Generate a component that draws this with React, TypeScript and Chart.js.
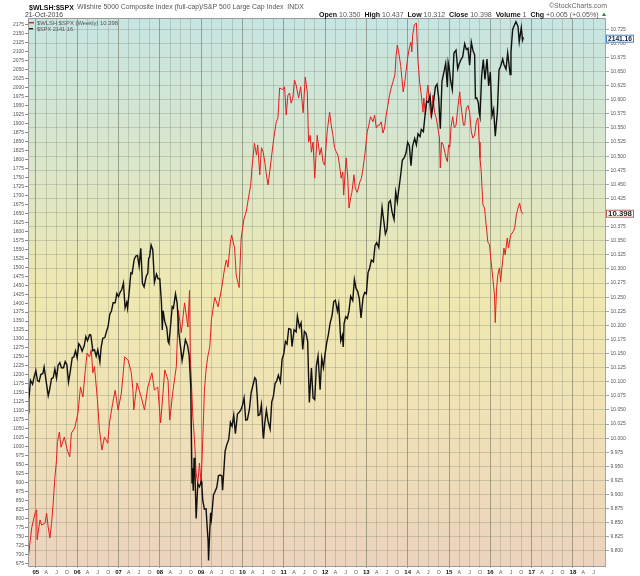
import React, { useEffect, useRef } from 'react';
import { Chart, registerables } from 'chart.js';
Chart.register(...registerables);

// ---------- DATA ----------
// $WLSH:$SPX ratio (right axis), time in decimal years
const wlshTime = [
  2004.81, 2004.90, 2004.98, 2005.02, 2005.03, 2005.10, 2005.14, 2005.22, 2005.26, 2005.30,
  2005.34, 2005.38, 2005.42, 2005.46, 2005.50, 2005.52, 2005.57, 2005.61, 2005.69, 2005.76,
  2005.82, 2005.86, 2005.94, 2006.02, 2006.08, 2006.14, 2006.19, 2006.24, 2006.30, 2006.34,
  2006.38, 2006.42, 2006.49, 2006.54, 2006.60, 2006.66, 2006.74, 2006.78, 2006.86, 2006.92,
  2006.99, 2007.07, 2007.15, 2007.23, 2007.31, 2007.35, 2007.37, 2007.45, 2007.55, 2007.63,
  2007.71, 2007.81, 2007.87, 2007.95, 2008.02, 2008.12, 2008.20, 2008.24, 2008.32, 2008.40,
  2008.45, 2008.52, 2008.60, 2008.68, 2008.72, 2008.74, 2008.80, 2008.84, 2008.88, 2008.92,
  2008.96, 2009.00, 2009.04, 2009.08, 2009.12, 2009.16, 2009.21, 2009.25, 2009.33, 2009.41,
  2009.49, 2009.57, 2009.61, 2009.65, 2009.71, 2009.74, 2009.81, 2009.85, 2009.92, 2009.97,
  2010.04, 2010.09, 2010.13, 2010.20, 2010.23, 2010.29, 2010.34, 2010.37, 2010.42, 2010.46,
  2010.50, 2010.54, 2010.58, 2010.62, 2010.66, 2010.70, 2010.76, 2010.82, 2010.86, 2010.90,
  2010.98, 2011.02, 2011.06, 2011.10, 2011.14, 2011.18, 2011.22, 2011.26, 2011.30, 2011.36,
  2011.41, 2011.47, 2011.52, 2011.57, 2011.60, 2011.64, 2011.67, 2011.71, 2011.75, 2011.81,
  2011.87, 2011.91, 2011.95, 2011.99, 2012.05, 2012.11, 2012.15, 2012.19, 2012.23, 2012.27,
  2012.31, 2012.35, 2012.39, 2012.43, 2012.45, 2012.51, 2012.55, 2012.58, 2012.62, 2012.65,
  2012.70, 2012.73, 2012.78, 2012.84, 2012.88, 2012.92, 2012.97, 2013.02, 2013.06, 2013.10,
  2013.16, 2013.20, 2013.24, 2013.28, 2013.32, 2013.36, 2013.40, 2013.44, 2013.48, 2013.52,
  2013.56, 2013.60, 2013.64, 2013.69, 2013.72, 2013.75, 2013.78, 2013.83, 2013.86, 2013.89,
  2013.92, 2013.96, 2014.00, 2014.04, 2014.08, 2014.10, 2014.12, 2014.16, 2014.21, 2014.23,
  2014.25, 2014.29, 2014.33, 2014.37, 2014.39, 2014.43, 2014.46, 2014.49, 2014.53, 2014.57,
  2014.61, 2014.65, 2014.69, 2014.73, 2014.77, 2014.79, 2014.82, 2014.86, 2014.90, 2014.93,
  2014.96, 2014.99, 2015.02, 2015.05, 2015.09, 2015.13, 2015.17, 2015.22, 2015.26, 2015.28,
  2015.31, 2015.35, 2015.38, 2015.42, 2015.46, 2015.50, 2015.54, 2015.58, 2015.62, 2015.66,
  2015.70, 2015.73, 2015.75, 2015.78, 2015.82, 2015.86, 2015.90, 2015.94, 2015.98, 2016.02,
  2016.06, 2016.10, 2016.12, 2016.15, 2016.18, 2016.22, 2016.25, 2016.28, 2016.33, 2016.36,
  2016.41, 2016.44, 2016.49, 2016.55, 2016.59, 2016.63, 2016.67, 2016.71, 2016.75, 2016.80,
];
const wlshRatio = [
  9.784, 9.841, 9.867, 9.873, 9.820, 9.855, 9.846, 9.849, 9.867, 9.842,
  9.823, 9.849, 9.885, 9.930, 9.960, 9.992, 10.011, 9.984, 10.002, 9.979,
  9.967, 10.009, 10.018, 10.045, 10.091, 10.073, 10.116, 10.151, 10.144, 10.157,
  10.116, 10.127, 10.068, 10.014, 9.979, 10.002, 9.991, 10.027, 10.062, 10.085,
  10.050, 10.080, 10.144, 10.139, 10.116, 10.085, 10.050, 10.098, 10.073, 10.050,
  10.091, 10.116, 10.085, 10.091, 10.027, 10.121, 10.103, 10.032, 10.085, 10.127,
  10.227, 10.187, 10.240, 10.197, 10.262, 10.144, 10.037, 9.997, 9.938, 9.920,
  9.956, 9.920, 9.997, 10.085, 10.121, 10.144, 10.162, 10.210, 10.250, 10.233,
  10.263, 10.302, 10.316, 10.303, 10.348, 10.360, 10.337, 10.289, 10.267, 10.355,
  10.390, 10.401, 10.419, 10.449, 10.479, 10.523, 10.502, 10.520, 10.467, 10.515,
  10.508, 10.490, 10.467, 10.449, 10.472, 10.497, 10.532, 10.561, 10.568, 10.621,
  10.618, 10.623, 10.573, 10.608, 10.612, 10.594, 10.603, 10.635, 10.626, 10.603,
  10.623, 10.577, 10.640, 10.614, 10.525, 10.537, 10.507, 10.525, 10.461, 10.537,
  10.502, 10.515, 10.490, 10.484, 10.543, 10.578, 10.555, 10.537, 10.515, 10.508,
  10.502, 10.484, 10.461, 10.472, 10.431, 10.497, 10.461, 10.408, 10.426, 10.436,
  10.467, 10.443, 10.436, 10.454, 10.461, 10.479, 10.507, 10.543, 10.555, 10.570,
  10.561, 10.573, 10.550, 10.555, 10.555, 10.561, 10.541, 10.550, 10.573, 10.590,
  10.608, 10.621, 10.631, 10.644, 10.679, 10.697, 10.685, 10.661, 10.638, 10.614,
  10.626, 10.650, 10.675, 10.692, 10.702, 10.685, 10.714, 10.733, 10.736, 10.702,
  10.668, 10.631, 10.608, 10.578, 10.603, 10.573, 10.608, 10.626, 10.590, 10.568,
  10.608, 10.578, 10.568, 10.550, 10.532, 10.479, 10.525, 10.520, 10.507, 10.497,
  10.490, 10.520, 10.516, 10.552, 10.570, 10.550, 10.555, 10.590, 10.614, 10.596,
  10.578, 10.555, 10.555, 10.585, 10.590, 10.578, 10.543, 10.532, 10.537, 10.561,
  10.568, 10.525, 10.497, 10.472, 10.414, 10.408, 10.378, 10.348, 10.343, 10.313,
  10.284, 10.254, 10.205, 10.263, 10.289, 10.302, 10.277, 10.302, 10.337, 10.325,
  10.355, 10.337, 10.360, 10.366, 10.373, 10.396, 10.408, 10.417, 10.401, 10.398,
];

// $SPX (left axis)
const spxTime = [
  2004.81, 2004.83, 2004.87, 2004.92, 2004.96, 2005.00, 2005.04, 2005.08, 2005.12, 2005.17,
  2005.20, 2005.25, 2005.30, 2005.33, 2005.38, 2005.42, 2005.46, 2005.50, 2005.54, 2005.58,
  2005.62, 2005.67, 2005.71, 2005.75, 2005.79, 2005.83, 2005.88, 2005.92, 2005.96, 2006.00,
  2006.04, 2006.08, 2006.12, 2006.17, 2006.21, 2006.25, 2006.30, 2006.33, 2006.38, 2006.42,
  2006.46, 2006.50, 2006.55, 2006.58, 2006.62, 2006.67, 2006.71, 2006.75, 2006.79, 2006.83,
  2006.87, 2006.92, 2006.96, 2007.00, 2007.04, 2007.08, 2007.12, 2007.16, 2007.20, 2007.22,
  2007.25, 2007.30, 2007.33, 2007.38, 2007.42, 2007.46, 2007.50, 2007.54, 2007.58, 2007.62,
  2007.67, 2007.71, 2007.73, 2007.75, 2007.79, 2007.83, 2007.87, 2007.92, 2007.96, 2008.00,
  2008.04, 2008.06, 2008.08, 2008.12, 2008.17, 2008.20, 2008.22, 2008.25, 2008.30, 2008.33,
  2008.38, 2008.42, 2008.46, 2008.50, 2008.54, 2008.58, 2008.62, 2008.67, 2008.71, 2008.75,
  2008.78, 2008.79, 2008.81, 2008.83, 2008.85, 2008.88, 2008.92, 2008.96, 2009.00, 2009.02,
  2009.04, 2009.08, 2009.12, 2009.15, 2009.17, 2009.18, 2009.21, 2009.23, 2009.25, 2009.30,
  2009.33, 2009.38, 2009.42, 2009.46, 2009.50, 2009.52, 2009.58, 2009.62, 2009.67, 2009.71,
  2009.75, 2009.79, 2009.83, 2009.88, 2009.92, 2009.96, 2010.00, 2010.04, 2010.08, 2010.12,
  2010.17, 2010.21, 2010.25, 2010.30, 2010.33, 2010.36, 2010.38, 2010.42, 2010.46, 2010.50,
  2010.51, 2010.54, 2010.58, 2010.62, 2010.67, 2010.71, 2010.75, 2010.79, 2010.83, 2010.87,
  2010.92, 2010.96, 2011.00, 2011.04, 2011.08, 2011.12, 2011.17, 2011.20, 2011.25, 2011.30,
  2011.33, 2011.38, 2011.42, 2011.46, 2011.50, 2011.54, 2011.58, 2011.60, 2011.62, 2011.67,
  2011.71, 2011.75, 2011.79, 2011.83, 2011.88, 2011.92, 2011.96, 2012.00, 2012.04, 2012.08,
  2012.12, 2012.17, 2012.21, 2012.25, 2012.30, 2012.33, 2012.38, 2012.42, 2012.44, 2012.46,
  2012.50, 2012.54, 2012.58, 2012.62, 2012.67, 2012.71, 2012.75, 2012.79, 2012.83, 2012.87,
  2012.92, 2012.96, 2013.00, 2013.04, 2013.08, 2013.12, 2013.17, 2013.21, 2013.25, 2013.30,
  2013.33, 2013.38, 2013.42, 2013.46, 2013.50, 2013.54, 2013.58, 2013.62, 2013.67, 2013.71,
  2013.75, 2013.77, 2013.83, 2013.87, 2013.92, 2013.96, 2014.00, 2014.04, 2014.08, 2014.12,
  2014.17, 2014.21, 2014.25, 2014.30, 2014.33, 2014.38, 2014.42, 2014.46, 2014.50, 2014.54,
  2014.58, 2014.62, 2014.67, 2014.71, 2014.75, 2014.79, 2014.83, 2014.87, 2014.92, 2014.96,
  2014.98, 2015.00, 2015.04, 2015.08, 2015.12, 2015.17, 2015.21, 2015.25, 2015.30, 2015.33,
  2015.38, 2015.42, 2015.46, 2015.50, 2015.54, 2015.58, 2015.62, 2015.64, 2015.67, 2015.71,
  2015.73, 2015.75, 2015.79, 2015.83, 2015.87, 2015.92, 2015.96, 2016.00, 2016.04, 2016.08,
  2016.12, 2016.17, 2016.21, 2016.25, 2016.30, 2016.33, 2016.38, 2016.42, 2016.48, 2016.50,
  2016.54, 2016.58, 2016.62, 2016.67, 2016.70, 2016.75, 2016.78, 2016.80,
];
const spxClose = [
  1095, 1130, 1185, 1174, 1195, 1212, 1184, 1181, 1201, 1204,
  1222, 1181, 1142, 1157, 1190, 1192, 1216, 1191, 1227, 1234,
  1220, 1220, 1237, 1229, 1180, 1207, 1248, 1250, 1267, 1248,
  1287, 1280, 1266, 1281, 1307, 1295, 1312, 1311, 1267, 1270,
  1252, 1270, 1236, 1277, 1302, 1304, 1321, 1336, 1369, 1378,
  1401, 1401, 1427, 1418, 1430, 1438, 1456, 1387, 1402, 1386,
  1421, 1484, 1482, 1522, 1531, 1533, 1503, 1553, 1455, 1445,
  1474, 1484, 1525, 1527, 1562, 1549, 1458, 1481, 1468, 1468,
  1401, 1325, 1379, 1349, 1331, 1293, 1288, 1323, 1390, 1386,
  1426, 1400, 1318, 1280, 1240, 1267, 1298, 1283, 1255, 1166,
  899, 940, 877, 969, 930, 800, 896, 888, 903, 890,
  850, 826, 827, 770, 735, 683, 768, 816, 798, 866,
  873, 887, 919, 921, 919, 879, 987, 1005, 1021, 1068,
  1057, 1088, 1036, 1091, 1096, 1102, 1115, 1136, 1074, 1075,
  1105, 1150, 1169, 1192, 1187, 1136, 1087, 1089, 1117, 1031,
  1022, 1065, 1102, 1071, 1049, 1125, 1141, 1176, 1183, 1199,
  1181, 1244, 1258, 1293, 1286, 1329, 1327, 1279, 1326, 1320,
  1364, 1333, 1345, 1271, 1321, 1316, 1292, 1199, 1123, 1219,
  1136, 1131, 1225, 1253, 1159, 1247, 1220, 1258, 1289, 1312,
  1343, 1366, 1404, 1408, 1378, 1398, 1295, 1310, 1278, 1343,
  1362, 1357, 1379, 1419, 1407, 1466, 1441, 1433, 1412, 1359,
  1416, 1430, 1426, 1485, 1498, 1520, 1515, 1561, 1569, 1555,
  1598, 1667, 1631, 1593, 1606, 1680, 1686, 1655, 1633, 1710,
  1682, 1703, 1757, 1798, 1806, 1819, 1848, 1839, 1783, 1838,
  1859, 1841, 1872, 1864, 1884, 1878, 1924, 1963, 1960, 1978,
  1925, 1955, 2003, 2010, 1972, 1886, 2018, 2040, 2068, 2002,
  2071, 2059, 2019, 1995, 2097, 2105, 2053, 2068, 2081, 2086,
  2123, 2107, 2110, 2063, 2127, 2104, 2092, 1971, 1972, 1958,
  1931, 1920, 2033, 2079, 2023, 2080, 2005, 2044, 1922, 1940,
  1865, 1932, 2050, 2060, 2080, 2065, 2052, 2097, 2037, 2099,
  2162, 2174, 2184, 2171, 2128, 2168, 2133, 2141,
];

const yearLabels = ['05', '06', '07', '08', '09', '10', '11', '12', '13', '14', '15', '16', '17', '18'];
const firstYear = 2005;
const quarterLabels = ['A', 'J', 'O'];
const spxTickFrom = 675, spxTickTo = 2175, spxTickStep = 25;
const ratioTickFrom = 9800, ratioTickTo = 10725, ratioTickStep = 25; // thousandths

const titleText = '$WLSH:$SPX';
const subtitleText = 'Wilshire 5000 Composite Index (full-cap)/S&P 500 Large Cap Index  INDX';
const dateText = '21-Oct-2016';
const creditText = '\u00A9StockCharts.com';
const quoteParts: [string, string][] = [
  ['Open', '10.350'], ['High', '10.437'], ['Low', '10.312'], ['Close', '10.398'],
  ['Volume', '1'], ['Chg', '+0.005 (+0.05%)'],
];
const legendRatio = '$WLSH:$SPX (Weekly) 10.398';
const legendSpx = '$SPX 2141.16';
const lastSpxLabel = '2141.16';
const lastRatioLabel = '10.398';

// ---------- STYLE ----------
const FONT = '"Liberation Sans", Arial, sans-serif';
const RED = 'rgb(228,30,30)';
const BLACK = '#111';
const GRID = 'rgba(130,135,115,0.33)';
const GRID_YEAR = 'rgba(110,115,95,0.6)';

function fitSize(ctx: CanvasRenderingContext2D, text: string, weight: string, target: number) {
  ctx.font = `${weight} 10px ${FONT}`;
  return (10 * target) / ctx.measureText(text).width;
}

const backgroundPlugin = {
  id: 'bg',
  beforeDraw(chart: any) {
    const { ctx, chartArea: a } = chart;
    ctx.save();
    ctx.fillStyle = '#fff';
    ctx.fillRect(0, 0, chart.width, chart.height);
    const g = ctx.createLinearGradient(0, a.top, 0, a.bottom);
    g.addColorStop(0, '#c6e5e3');
    g.addColorStop(0.25, '#d9e6cc');
    g.addColorStop(0.5, '#efe8b0');
    g.addColorStop(0.72, '#f0e2b6');
    g.addColorStop(1, '#ecd3bd');
    ctx.fillStyle = g;
    ctx.fillRect(a.left, a.top, a.right - a.left, a.bottom - a.top);
    ctx.restore();
  },
};

const overlayPlugin = {
  id: 'overlay',
  afterDraw(chart: any) {
    const { ctx, chartArea: a } = chart;
    ctx.save();
    // frame
    ctx.strokeStyle = '#9a9a9a';
    ctx.lineWidth = 1;
    ctx.strokeRect(a.left + 0.5, a.top + 0.5, a.right - a.left - 1, a.bottom - a.top);
    ctx.strokeStyle = '#7fb0d0';
    ctx.beginPath();
    ctx.moveTo(a.right - 0.5, a.top);
    ctx.lineTo(a.right - 0.5, a.bottom);
    ctx.stroke();

    ctx.textBaseline = 'alphabetic';
    ctx.textAlign = 'left';
    // title
    let s = fitSize(ctx, titleText, 'bold', 45);
    ctx.font = `bold ${s}px ${FONT}`;
    ctx.fillStyle = '#111';
    ctx.fillText(titleText, 29, 9.5);
    s = fitSize(ctx, subtitleText, 'normal', 227);
    ctx.font = `${s}px ${FONT}`;
    ctx.fillStyle = '#555';
    ctx.fillText(subtitleText, 77, 9.3);
    s = fitSize(ctx, dateText, 'normal', 38);
    ctx.font = `${s}px ${FONT}`;
    ctx.fillStyle = '#444';
    ctx.fillText(dateText, 25, 16.5);
    s = fitSize(ctx, creditText, 'normal', 58);
    ctx.font = `${s}px ${FONT}`;
    ctx.fillStyle = '#666';
    ctx.fillText(creditText, 549, 8);

    // quote line
    let total = 0;
    const pieces: { t: string; b: boolean }[] = [];
    quoteParts.forEach(([k, v], i) => {
      pieces.push({ t: k, b: true });
      pieces.push({ t: ' ' + v + (i < quoteParts.length - 1 ? '  ' : ''), b: false });
    });
    pieces.forEach((p) => {
      ctx.font = `${p.b ? 'bold ' : ''}10px ${FONT}`;
      total += ctx.measureText(p.t).width;
    });
    const qs = (10 * 280) / total;
    let x = 319;
    pieces.forEach((p) => {
      ctx.font = `${p.b ? 'bold ' : ''}${qs}px ${FONT}`;
      ctx.fillStyle = p.b ? '#111' : '#555';
      ctx.fillText(p.t, x, 16.5);
      x += ctx.measureText(p.t).width;
    });
    ctx.fillStyle = '#2a8a2a';
    ctx.beginPath();
    ctx.moveTo(602, 16);
    ctx.lineTo(606, 16);
    ctx.lineTo(604, 12.5);
    ctx.closePath();
    ctx.fill();

    // legend
    ctx.fillStyle = RED;
    ctx.fillRect(29, 22, 5, 1.4);
    ctx.fillStyle = '#222';
    ctx.fillRect(29, 28, 4, 1.4);
    s = fitSize(ctx, legendRatio, 'normal', 81);
    ctx.font = `${s}px "DejaVu Sans Mono", monospace`;
    ctx.font = `${(s * 10) / 10}px ${FONT}`;
    ctx.fillStyle = '#555';
    ctx.fillText(legendRatio, 37, 25.3);
    s = fitSize(ctx, legendSpx, 'normal', 36);
    ctx.font = `${s}px ${FONT}`;
    ctx.fillText(legendSpx, 37, 31);

    // last value boxes
    const yl = chart.scales.yLeft;
    const yr = chart.scales.yRight;
    const drawBox = (label: string, py: number, border: string, color: string) => {
      const bx = 606.5, bw = 27, bh = 7;
      ctx.fillStyle = '#fff';
      ctx.fillRect(bx, py - bh / 2, bw, bh);
      ctx.strokeStyle = border;
      ctx.lineWidth = 1;
      ctx.strokeRect(bx, py - bh / 2, bw, bh);
      const fs = fitSize(ctx, label, 'bold', 24);
      ctx.font = `bold ${fs}px ${FONT}`;
      ctx.fillStyle = color;
      ctx.textAlign = 'center';
      ctx.textBaseline = 'middle';
      ctx.fillText(label, bx + bw / 2, py + 0.5);
      ctx.textAlign = 'left';
      ctx.textBaseline = 'alphabetic';
    };
    drawBox(lastSpxLabel, yl.getPixelForValue(spxClose[spxClose.length - 1]) + 1.5, '#4a86c5', '#0b1f44');
    drawBox(lastRatioLabel, yr.getPixelForValue(wlshRatio[wlshRatio.length - 1]), '#c06060', '#222');
    ctx.restore();
  },
};

export default function App() {
  const ref = useRef<HTMLCanvasElement>(null);
  useEffect(() => {
    const canvas = ref.current;
    if (!canvas) return;
    const chart = new Chart(canvas, {
      type: 'line',
      data: {
        datasets: [
          {
            label: '$SPX',
            data: spxTime.map((t, i) => ({ x: t, y: spxClose[i] })),
            borderColor: BLACK,
            borderWidth: 1.4,
            pointRadius: 0,
            tension: 0,
            yAxisID: 'yLeft',
            order: 0,
          },
          {
            label: '$WLSH:$SPX',
            data: wlshTime.map((t, i) => ({ x: t, y: wlshRatio[i] })),
            borderColor: RED,
            borderWidth: 1,
            pointRadius: 0,
            tension: 0,
            yAxisID: 'yRight',
            order: 1,
          },
        ],
      },
      options: {
        animation: false,
        responsive: false,
        maintainAspectRatio: false,
        layout: { padding: { top: 18, left: 0, right: 0, bottom: 0 } },
        plugins: { legend: { display: false }, tooltip: { enabled: false }, title: { display: false } },
        scales: {
          x: {
            type: 'linear',
            min: 2004.81,
            max: 2018.8,
            afterBuildTicks: (scale: any) => {
              const ticks: { value: number }[] = [];
              yearLabels.forEach((_, i) => {
                const y = firstYear + i;
                ticks.push({ value: y });
                quarterLabels.forEach((__, q) => {
                  const v = y + (q + 1) * 0.25;
                  if (v < 2018.7) ticks.push({ value: v });
                });
              });
              scale.ticks = ticks;
            },
            afterFit: (scale: any) => {
              scale.height = 10;
            },
            ticks: {
              autoSkip: false,
              maxRotation: 0,
              minRotation: 0,
              padding: 1,
              callback: (v: any) => {
                const val = Number(v);
                const yr = Math.floor(val + 1e-6);
                const frac = val - yr;
                if (frac < 0.01) return yearLabels[yr - firstYear];
                return quarterLabels[Math.round(frac * 4) - 1];
              },
              font: (c: any) => {
                const isYear = c.tick && Math.abs(c.tick.value - Math.round(c.tick.value)) < 0.01;
                return { family: FONT, size: isYear ? 6 : 5.2, weight: isYear ? 'bold' : 'normal' };
              },
              color: (c: any) => {
                const isYear = c.tick && Math.abs(c.tick.value - Math.round(c.tick.value)) < 0.01;
                return isYear ? '#111' : '#555';
              },
            },
            grid: {
              drawOnChartArea: true,
              tickLength: 2,
              color: (c: any) => {
                const isYear = c.tick && Math.abs(c.tick.value - Math.round(c.tick.value)) < 0.01;
                return isYear ? GRID_YEAR : GRID;
              },
            },
            border: { display: false },
          },
          yLeft: {
            type: 'linear',
            position: 'left',
            min: 667.5,
            max: 2194.5,
            afterBuildTicks: (scale: any) => {
              const ticks: { value: number }[] = [];
              for (let v = spxTickFrom; v <= spxTickTo; v += spxTickStep) ticks.push({ value: v });
              scale.ticks = ticks;
            },
            afterFit: (scale: any) => {
              scale.width = 28;
            },
            ticks: {
              autoSkip: false,
              padding: 1,
              color: '#555',
              font: { family: FONT, size: 5 },
              callback: (v: any) => String(v),
            },
            grid: { drawOnChartArea: false, tickLength: 3, color: '#888' },
            border: { display: false },
          },
          yRight: {
            type: 'linear',
            position: 'right',
            min: 9.7734,
            max: 10.745,
            afterBuildTicks: (scale: any) => {
              const ticks: { value: number }[] = [];
              for (let v = ratioTickFrom; v <= ratioTickTo; v += ratioTickStep) ticks.push({ value: v / 1000 });
              scale.ticks = ticks;
            },
            afterFit: (scale: any) => {
              scale.width = 34;
            },
            ticks: {
              autoSkip: false,
              padding: 1.5,
              color: '#555',
              font: { family: FONT, size: 5 },
              callback: (v: any) => Number(v).toFixed(3),
            },
            grid: { drawOnChartArea: true, tickLength: 3, color: GRID, tickColor: '#8ab' },
            border: { display: false },
          },
        },
      },
      plugins: [backgroundPlugin, overlayPlugin],
    } as any);
    return () => chart.destroy();
  }, []);
  return (
    <div style={{ position: 'absolute', left: 0, top: 0, width: 640, height: 576, background: '#fff' }}>
      <canvas ref={ref} width={640} height={576} style={{ display: 'block', width: 640, height: 576 }} />
    </div>
  );
}
